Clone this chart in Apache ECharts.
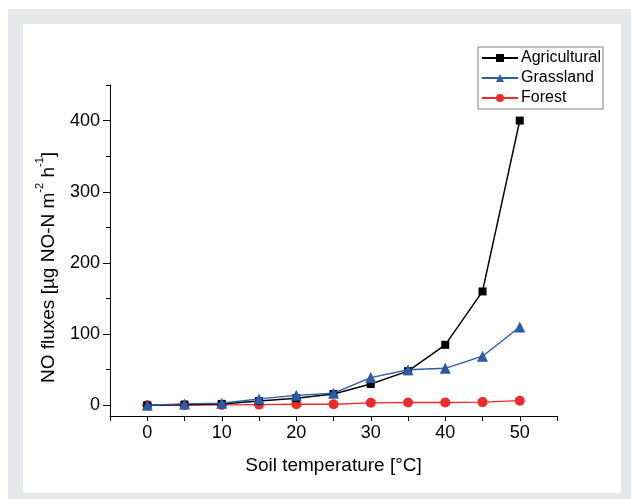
<!DOCTYPE html>
<html>
<head>
<meta charset="utf-8">
<script src="https://cdn.jsdelivr.net/npm/echarts@6/dist/echarts.min.js"></script>
<style>
  html, body { margin: 0; padding: 0; background: #fff; }
  #main { width: 631px; height: 499px; }
</style>
</head>
<body>
<div id="main"></div>
<script>
// soil temperature steps (°C)
var temps = [0, 5, 10, 15, 20, 25, 30, 35, 40, 45, 50];
// NO fluxes [µg NO-N m-2 h-1]
var agricultural = [0, 1, 2, 6, 10, 16, 30, 48, 85, 160, 400];
var grassland = [0, 2, 3, 9, 14, 17, 39, 50, 52, 69, 110];
var forest = [0, 0, 0.5, 1, 1.5, 1.5, 3.5, 4, 4, 4.5, 6.5];

var xTicks = [-5, 0, 5, 10, 15, 20, 25, 30, 35, 40, 45, 50, 55];
var xLabels = [0, 10, 20, 30, 40, 50];
var yMajor = [0, 100, 200, 300, 400];
var yMinor = [50, 150, 250, 350, 450];

function pairs(ys) {
    return temps.map(function (t, i) { return [t, ys[i]]; });
}

var chart = echarts.init(document.getElementById('main'));
var font = 'Liberation Sans, Arial, sans-serif';

chart.setOption({
    animation: false,
    textStyle: {fontFamily: font},
    graphic: [
        {type: 'rect', z: -10, silent: true, shape: {x: 8, y: 9, width: 623, height: 490}, style: {fill: '#e6e7e8'}},
        {type: 'rect', z: -9, silent: true, shape: {x: 23, y: 24, width: 598, height: 469}, style: {fill: '#ffffff'}}
    ],
    legend: {
        orient: 'vertical',
        left: 478,
        top: 47,
        padding: [3, 2, 3, 3],
        itemGap: 4,
        itemWidth: 36,
        itemHeight: 10,
        borderColor: '#7f7f7f',
        borderWidth: 1,
        textStyle: {fontFamily: font, fontSize: 16, color: '#000', padding: [0, 0, 0, -2]},
        data: ['Agricultural', 'Grassland', 'Forest']
    },
    grid: {left: 110, right: 74, top: 85, bottom: 83},
    xAxis: {
        type: 'value',
        min: -5,
        max: 55,
        name: 'Soil temperature [°C]',
        nameLocation: 'middle',
        nameGap: 40,
        nameTextStyle: {fontFamily: font, fontSize: 19, color: '#000'},
        axisLine: {show: true, onZero: false, lineStyle: {color: '#000', width: 1}},
        axisTick: {show: true, inside: false, length: 5, customValues: xTicks, lineStyle: {color: '#000', width: 1}},
        axisLabel: {customValues: xLabels, margin: 8, fontFamily: font, fontSize: 18, color: '#000'},
        splitLine: {show: false}
    },
    yAxis: [
        {
            type: 'value',
            min: -15,
            max: 450,
            name: '{t|NO fluxes [µg NO-N m}{s|-2}{t| h}{s|-1}{t|]}',
            nameLocation: 'middle',
            nameGap: 52,
            nameRotate: 90,
            nameTextStyle: {
                padding: [0, 34, 0, 0],
                rich: {
                    t: {fontFamily: font, fontSize: 19, color: '#000', lineHeight: 24, verticalAlign: 'bottom'},
                    s: {fontFamily: font, fontSize: 11, color: '#000', lineHeight: 24, verticalAlign: 'top', padding: [0, 0, 8, 0]}
                }
            },
            axisLine: {show: true, onZero: false, lineStyle: {color: '#000', width: 1}},
            axisTick: {show: true, inside: false, length: 7, customValues: yMajor, lineStyle: {color: '#000'}},
            axisLabel: {customValues: yMajor, margin: 10, fontFamily: font, fontSize: 18, color: '#000'},
            splitLine: {show: false}
        },
        {
            // minor ticks only
            type: 'value',
            position: 'left',
            min: -15,
            max: 450,
            axisLine: {show: false, onZero: false},
            axisTick: {show: true, inside: false, length: 4, customValues: yMinor, lineStyle: {color: '#000'}},
            axisLabel: {show: false},
            splitLine: {show: false}
        }
    ],
    series: [
        {
            name: 'Agricultural',
            type: 'line',
            data: pairs(agricultural),
            symbol: 'rect',
            symbolSize: 8,
            color: '#000000',
            lineStyle: {width: 1.5, color: '#000000'},
            itemStyle: {color: '#000000'},
            z: 3
        },
        {
            name: 'Grassland',
            type: 'line',
            data: pairs(grassland),
            symbol: 'triangle',
            symbolSize: 11,
            color: '#2a5caa',
            lineStyle: {width: 1.4, color: '#2a5caa'},
            itemStyle: {color: '#2a5caa'},
            z: 4
        },
        {
            name: 'Forest',
            type: 'line',
            data: pairs(forest),
            symbol: 'circle',
            symbolSize: 10,
            color: '#ee2a2a',
            lineStyle: {width: 1.3, color: '#ee2a2a'},
            itemStyle: {color: '#ee2a2a'},
            z: 2
        }
    ]
});
</script>
</body>
</html>
